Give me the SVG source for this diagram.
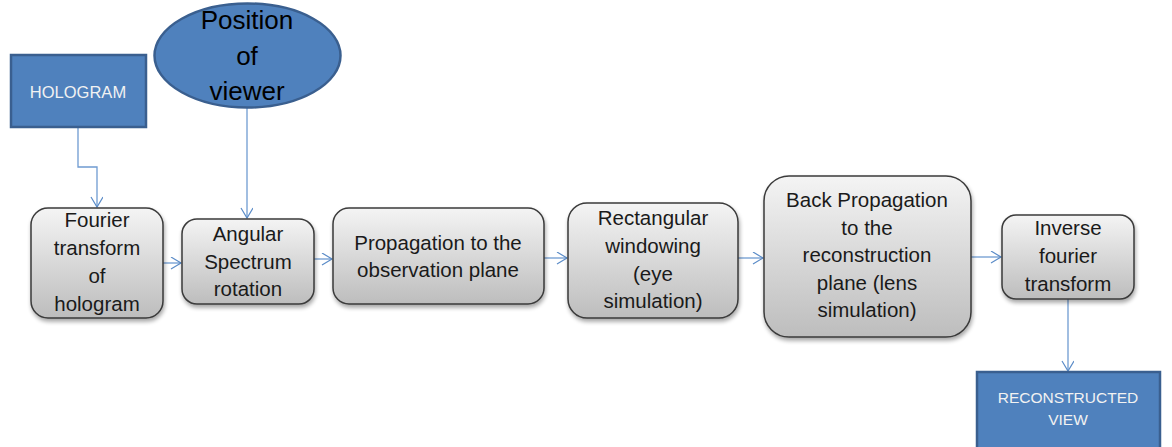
<svg xmlns="http://www.w3.org/2000/svg" width="1172" height="447" viewBox="0 0 1172 447">
<defs>
<linearGradient id="g" x1="0" y1="0" x2="0" y2="1">
<stop offset="0" stop-color="#f4f4f4"/>
<stop offset="1" stop-color="#bdbdbd"/>
</linearGradient>
<filter id="sh" x="-10%" y="-10%" width="130%" height="130%">
<feGaussianBlur in="SourceAlpha" stdDeviation="2"/>
<feOffset dx="1" dy="3"/>
<feComponentTransfer><feFuncA type="linear" slope="0.35"/></feComponentTransfer>
<feMerge><feMergeNode/><feMergeNode in="SourceGraphic"/></feMerge>
</filter>
<marker id="ah" markerWidth="14" markerHeight="14" refX="11" refY="6" orient="auto" markerUnits="userSpaceOnUse">
<path d="M1,0 L11,6 L1,12" fill="none" stroke="#5b8cc8" stroke-width="1.2"/>
</marker>
</defs>
<style>
.box{fill:url(#g);stroke:#3a3a3a;stroke-width:1.5;filter:url(#sh)}
.blue{fill:#4f81bd;stroke:#3a5f8f;stroke-width:2.5}
.t{font-family:"Liberation Sans",Arial,sans-serif;font-size:20.5px;fill:#1a1a1a;text-anchor:middle}
.w{font-family:"Liberation Sans",Arial,sans-serif;font-size:15.5px;fill:#f2f2f2;text-anchor:middle}
.big{font-family:"Liberation Sans",Arial,sans-serif;font-size:26px;fill:#000;text-anchor:middle}
.c{fill:none;stroke:#6f9bd1;stroke-width:1.3;marker-end:url(#ah)}
</style>
<rect width="1172" height="447" fill="#fff"/>
<g id="connectors">
<path class="c" d="M78,127 V167 H97 V207"/>
<path class="c" d="M247,108 V218"/>
<path class="c" d="M163,263 H181"/>
<path class="c" d="M314,259 H332"/>
<path class="c" d="M544,258 H567"/>
<path class="c" d="M738,258 H763"/>
<path class="c" d="M971,257 H1001"/>
<path class="c" d="M1068,299 V371"/>
</g>
<g id="hologram">
<rect class="blue" x="11" y="55" width="135" height="72"/>
<text class="w" x="78" y="98" style="font-size:16.5px">HOLOGRAM</text>
</g>
<g id="viewer">
<ellipse class="blue" cx="247.5" cy="55.5" rx="93" ry="52"/>
<text class="big" x="247" y="29">Position</text>
<text class="big" x="247" y="65">of</text>
<text class="big" x="247" y="100">viewer</text>
</g>
<g id="fourier">
<rect class="box" x="31" y="208" width="132" height="110" rx="17"/>
<text class="t" x="97" y="227">Fourier</text>
<text class="t" x="97" y="255">transform</text>
<text class="t" x="97" y="283">of</text>
<text class="t" x="97" y="311">hologram</text>
</g>
<g id="angular">
<rect class="box" x="182" y="219" width="132" height="85" rx="15"/>
<text class="t" x="248" y="241">Angular</text>
<text class="t" x="248" y="269">Spectrum</text>
<text class="t" x="248" y="296">rotation</text>
</g>
<g id="propagation">
<rect class="box" x="333" y="208" width="211" height="96" rx="16"/>
<text class="t" x="438" y="250">Propagation to the</text>
<text class="t" x="438" y="277">observation plane</text>
</g>
<g id="rectangular">
<rect class="box" x="568" y="203" width="170" height="115" rx="19"/>
<text class="t" x="653" y="225">Rectangular</text>
<text class="t" x="653" y="253">windowing</text>
<text class="t" x="653" y="281">(eye</text>
<text class="t" x="653" y="308">simulation)</text>
</g>
<g id="backprop">
<rect class="box" x="764" y="176" width="207" height="161" rx="25"/>
<text class="t" x="867" y="207">Back Propagation</text>
<text class="t" x="867" y="235">to the</text>
<text class="t" x="867" y="262">reconstruction</text>
<text class="t" x="867" y="290">plane (lens</text>
<text class="t" x="867" y="317">simulation)</text>
</g>
<g id="inverse">
<rect class="box" x="1002" y="215" width="132" height="84" rx="14"/>
<text class="t" x="1068" y="235">Inverse</text>
<text class="t" x="1068" y="263">fourier</text>
<text class="t" x="1068" y="291">transform</text>
</g>
<g id="reconstructed">
<rect class="blue" x="977" y="372" width="183" height="80"/>
<text class="w" x="1068" y="403">RECONSTRUCTED</text>
<text class="w" x="1068" y="425">VIEW</text>
</g>
</svg>
